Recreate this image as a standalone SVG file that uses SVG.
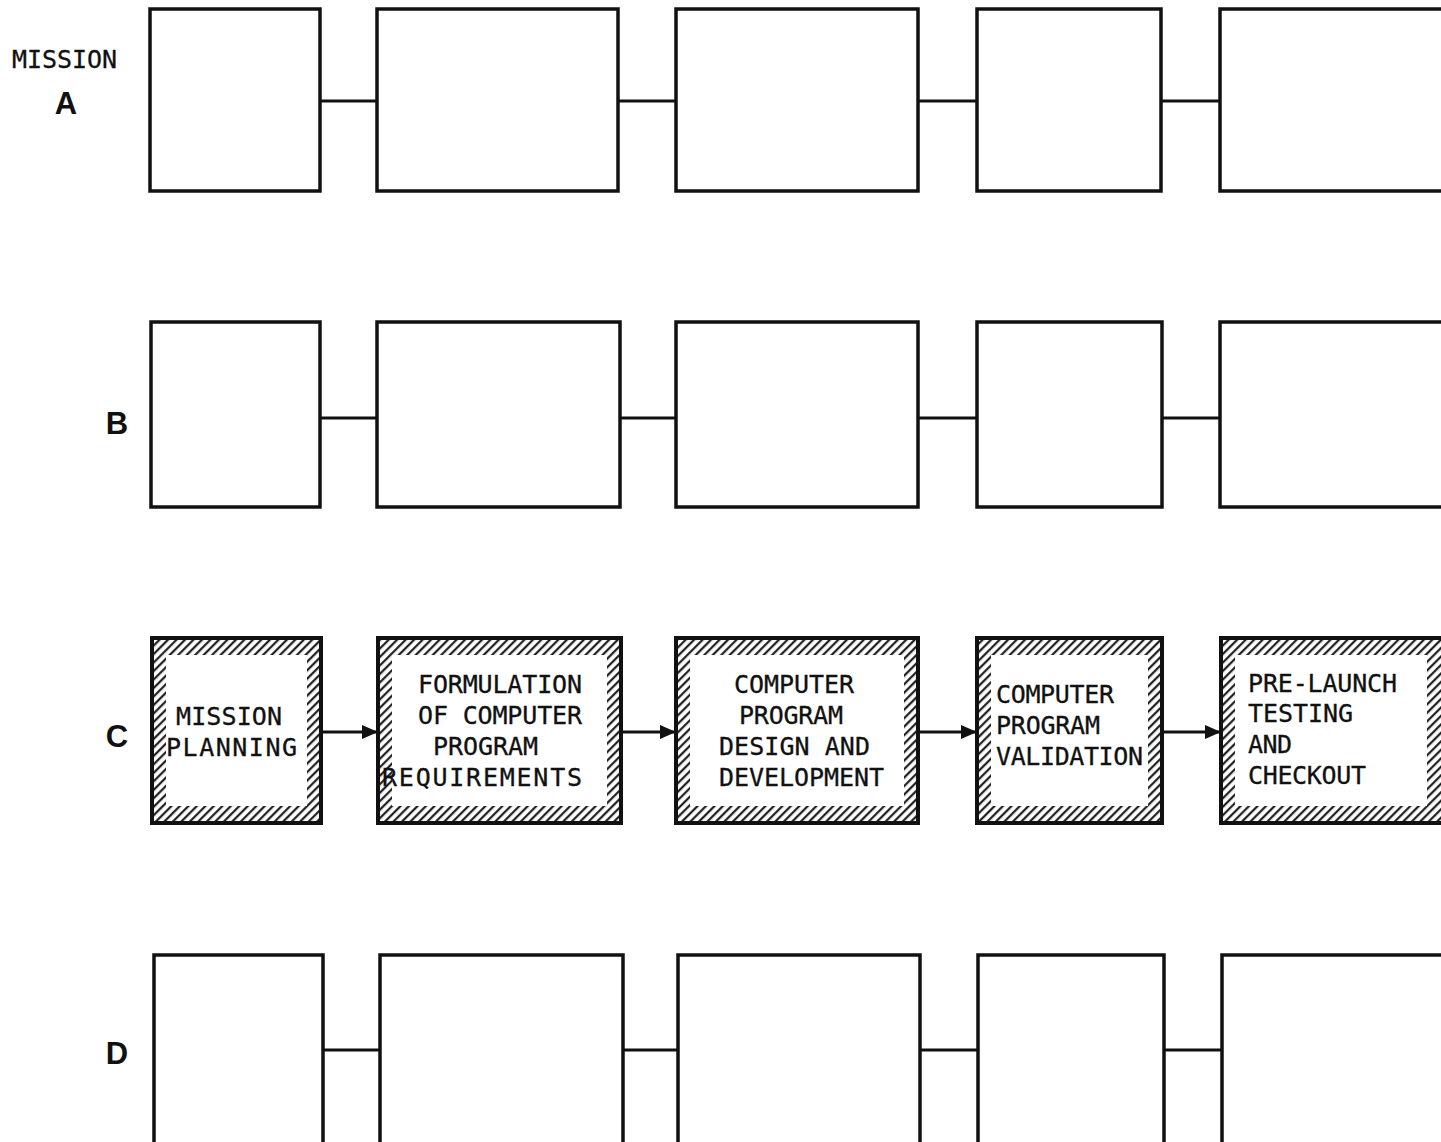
<svg xmlns="http://www.w3.org/2000/svg" width="1441" height="1142" viewBox="0 0 1441 1142">
<style>
.box{fill:#fff;stroke:#111;stroke-width:3.5}
.hbox{fill:url(#hatch);stroke:#111;stroke-width:4}
.inner{fill:#fff}
.ln{stroke:#111;stroke-width:2.8;fill:none}
.t{font-family:"DejaVu Sans Mono","Liberation Mono",monospace;font-size:25px;fill:#111;stroke:#111;stroke-width:0.3}
.lbl{font-family:"Liberation Sans",Arial,sans-serif;font-size:31px;font-weight:bold;fill:#111;text-anchor:middle}
</style>
<defs>
<pattern id="hatch" patternUnits="userSpaceOnUse" width="6" height="6" patternTransform="rotate(45)">
<rect width="6" height="6" fill="#fff"/>
<line x1="1.2" y1="0" x2="1.2" y2="6" stroke="#111" stroke-width="2.1"/>
</pattern>
<marker id="arr" markerWidth="16" markerHeight="14" refX="16" refY="7" orient="auto" markerUnits="userSpaceOnUse">
<path d="M0,0 L16,7 L0,14 Z" fill="#111"/>
</marker>
</defs>
<text class="t" x="12" y="68" textLength="105">MISSION</text>
<text class="lbl" x="66" y="114">A</text>
<text class="lbl" x="117" y="434">B</text>
<text class="lbl" x="117" y="747">C</text>
<text class="lbl" x="117" y="1064">D</text>
<g id="connectors">
<line class="ln" x1="320" y1="101" x2="377" y2="101"/>
<line class="ln" x1="618" y1="101" x2="676" y2="101"/>
<line class="ln" x1="918" y1="101" x2="977" y2="101"/>
<line class="ln" x1="1161" y1="101" x2="1220" y2="101"/>
<line class="ln" x1="320" y1="418" x2="377" y2="418"/>
<line class="ln" x1="620" y1="418" x2="676" y2="418"/>
<line class="ln" x1="918" y1="418" x2="977" y2="418"/>
<line class="ln" x1="1162" y1="418" x2="1220" y2="418"/>
<line class="ln" x1="321" y1="732" x2="378" y2="732" marker-end="url(#arr)"/>
<line class="ln" x1="621" y1="732" x2="676" y2="732" marker-end="url(#arr)"/>
<line class="ln" x1="918" y1="732" x2="977" y2="732" marker-end="url(#arr)"/>
<line class="ln" x1="1162" y1="732" x2="1221" y2="732" marker-end="url(#arr)"/>
<line class="ln" x1="323" y1="1050" x2="380" y2="1050"/>
<line class="ln" x1="623" y1="1050" x2="678" y2="1050"/>
<line class="ln" x1="920" y1="1050" x2="978" y2="1050"/>
<line class="ln" x1="1164" y1="1050" x2="1222" y2="1050"/>
</g>
<g id="A1"><rect class="box" x="150" y="9" width="170" height="182"/></g>
<g id="A2"><rect class="box" x="377" y="9" width="241" height="182"/></g>
<g id="A3"><rect class="box" x="676" y="9" width="242" height="182"/></g>
<g id="A4"><rect class="box" x="977" y="9" width="184" height="182"/></g>
<g id="A5"><rect class="box" x="1220" y="9" width="240" height="182"/></g>
<g id="B1"><rect class="box" x="151" y="322" width="169" height="185"/></g>
<g id="B2"><rect class="box" x="377" y="322" width="243" height="185"/></g>
<g id="B3"><rect class="box" x="676" y="322" width="242" height="185"/></g>
<g id="B4"><rect class="box" x="977" y="322" width="185" height="185"/></g>
<g id="B5"><rect class="box" x="1220" y="322" width="240" height="185"/></g>
<g id="C1"><rect class="hbox" x="152" y="638" width="169" height="185"/><rect class="inner" x="166" y="655" width="141" height="151"/>
<text class="t" x="176" y="725" textLength="106">MISSION</text><text class="t" x="166" y="756" textLength="131">PLANNING</text></g>
<g id="C2"><rect class="hbox" x="378" y="638" width="243" height="185"/><rect class="inner" x="392" y="655" width="215" height="151"/>
<text class="t" x="418" y="693" textLength="164">FORMULATION</text><text class="t" x="418" y="724" textLength="164">OF COMPUTER</text><text class="t" x="433" y="755" textLength="105">PROGRAM</text><text class="t" x="382" y="786" textLength="200">REQUIREMENTS</text></g>
<g id="C3"><rect class="hbox" x="676" y="638" width="242" height="185"/><rect class="inner" x="690" y="655" width="214" height="151"/>
<text class="t" x="734" y="693" textLength="120">COMPUTER</text><text class="t" x="739" y="724" textLength="104">PROGRAM</text><text class="t" x="719" y="755" textLength="151">DESIGN AND</text><text class="t" x="719" y="786" textLength="165">DEVELOPMENT</text></g>
<g id="C4"><rect class="hbox" x="977" y="638" width="185" height="185"/><rect class="inner" x="991" y="655" width="157" height="151"/>
<text class="t" x="996" y="703" textLength="118">COMPUTER</text><text class="t" x="996" y="734" textLength="104">PROGRAM</text><text class="t" x="996" y="765" textLength="147">VALIDATION</text></g>
<g id="C5"><rect class="hbox" x="1221" y="638" width="240" height="185"/><rect class="inner" x="1235" y="655" width="192" height="151"/>
<text class="t" x="1248" y="692" textLength="149">PRE-LAUNCH</text><text class="t" x="1248" y="722" textLength="105">TESTING</text><text class="t" x="1248" y="753" textLength="44">AND</text><text class="t" x="1248" y="784" textLength="118">CHECKOUT</text></g>
<g id="D1"><rect class="box" x="154" y="955" width="169" height="190"/></g>
<g id="D2"><rect class="box" x="380" y="955" width="243" height="190"/></g>
<g id="D3"><rect class="box" x="678" y="955" width="242" height="190"/></g>
<g id="D4"><rect class="box" x="978" y="955" width="186" height="190"/></g>
<g id="D5"><rect class="box" x="1222" y="955" width="240" height="190"/></g>
</svg>
